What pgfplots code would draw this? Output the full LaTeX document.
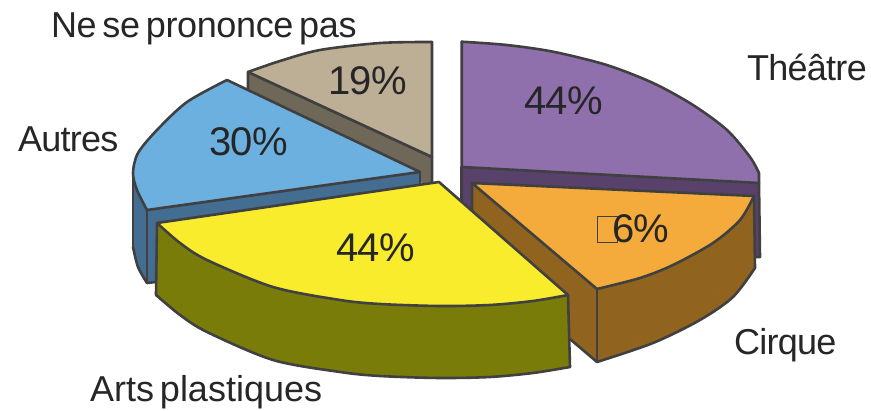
\documentclass[border=0pt]{standalone}
\usepackage{pgfplots}
\usepackage{fontspec}
\pgfplotsset{compat=1.18}
\setmainfont{Liberation Sans}
\newfontfamily\lab[LetterSpace=-2,WordSpace=0.6]{Liberation Sans}
\newfontfamily\labA[LetterSpace=-1,WordSpace=0.6]{Liberation Sans}
\newfontfamily\labB[LetterSpace=0,WordSpace=0.6]{Liberation Sans}
\newfontfamily\val[LetterSpace=-0.8]{Liberation Sans}
\definecolor{ln}{HTML}{404040}
\definecolor{tanT}{HTML}{BDAE96}\definecolor{tanS}{HTML}{6F6858}
\definecolor{bluT}{HTML}{6CB0E0}\definecolor{bluS}{HTML}{436D91}
\definecolor{purT}{HTML}{9070AC}\definecolor{purS}{HTML}{58426C}
\definecolor{oraT}{HTML}{F5AB3C}\definecolor{oraS}{HTML}{90641E}
\definecolor{yelT}{HTML}{F8EC2D}\definecolor{yelS}{HTML}{7A7C0A}
\tikzset{
 pt/.style={anchor=base west,inner sep=0pt,outer sep=0pt,text=black!85,font=\lab\fontsize{36}{36}\selectfont},
 ptA/.style={pt,font=\labA\fontsize{36}{36}\selectfont},
 ptB/.style={pt,font=\labB\fontsize{36}{36}\selectfont},
 vl/.style={anchor=base west,inner sep=0pt,outer sep=0pt,text=black!85,font=\val\fontsize{40}{40}\selectfont},
}
\pgfplotsset{
 base/.style={no markers,line width=2.6pt,line join=round,line cap=round},
 poly/.style={no markers,line width=1pt,line join=round,fill=#1,draw=#1},
 arc/.style={base,smooth,fill=#1,draw=ln},
 edge/.style={base,draw=ln,fill=none},
}
\begin{document}
\begin{tikzpicture}
\begin{axis}[hide axis,scale only axis,width=871pt,height=411pt,
 xmin=0,xmax=871,ymin=0,ymax=411,y dir=reverse,clip=false]
\path (axis cs:0,0) -- (axis cs:871,411);
% --- Ne se prononce pas
\addplot[poly=tanS] coordinates {(248,72)(432,157)(432,187)(248,100)(248,72)};
\addplot[edge] coordinates {(248,100)(248,72)(432,157)(432,187)};
\addplot[poly=tanT] coordinates {(248,72)(432,42)(432,157)(248,72)};
\addplot[arc=tanT] coordinates {(248,72)(280,61)(320,50)(380,43)(432,42)};
\addplot[edge] coordinates {(248,72)(432,157)(432,42)};
% --- Autres
\addplot[poly=bluS] coordinates {(133,173)(147,210)(420,172)(420,190)(147,283)(133,247)(133,173)};
\addplot[arc=bluS] coordinates {(133,247)(138,267)(147,283)};
\addplot[edge] coordinates {(133,173)(133,247)};
\addplot[edge] coordinates {(147,283)(165,281)};
\addplot[edge] coordinates {(147,210)(147,283)};
\addplot[edge] coordinates {(420,172)(420,190)};
\addplot[poly=bluT] coordinates {(147,210)(133,173)(227,80)(420,172)(147,210)};
\addplot[arc=bluT] coordinates {(227,80)(187,102)(157,130)(138,153)(133,173)(137,190)(147,210)};
\addplot[edge] coordinates {(227,80)(420,172)(147,210)};
% --- Theatre
\addplot[poly=purS] coordinates {(461.7,167)(759,183)(760,257)(745,257)(472,210)(461.7,200)(461.7,167)};
\addplot[edge] coordinates {(461.7,167)(461.7,205)};
\addplot[edge] coordinates {(759,183)(760,257)(750,257)};
\addplot[poly=purT] coordinates {(461.7,41.7)(759,173)(759,183)(461.7,167)(461.7,41.7)};
\addplot[arc=purT] coordinates {(461.7,41.7)(506.7,45)(553,51.7)(606.7,65)(653,83)(693,105)(727,130)(750,157)(759,173)};
\addplot[edge] coordinates {(461.7,41.7)(461.7,167)(759,183)(759,173)};
% --- Cirque
\addplot[poly=oraS] coordinates {(472,183)(597,289)(754,196)(755,268)(597,362)(472,256)(472,183)};
\addplot[arc=oraS] coordinates {(755,268)(733,297)(700,320)(653,343)(597,362)};
\addplot[edge] coordinates {(472,183)(472,256)(597,362)};
\addplot[edge] coordinates {(597,289)(597,362)};
\addplot[edge] coordinates {(754,196)(755,268)};
\addplot[poly=oraT] coordinates {(472,183)(754,196)(597,289)(472,183)};
\addplot[arc=oraT] coordinates {(754,196)(740,220)(713,243)(673,265)(640,278)(597,289)};
\addplot[edge] coordinates {(597,289)(472,183)(754,196)};
% --- Arts plastiques
\addplot[poly=yelS] coordinates {(157,223)(568,295)(570,367)(156,295)(157,223)};
\addplot[arc=yelS] coordinates {(156,295)(180,315)(207,332)(273,360)(340,372)(380,376)(439,378)(490,377)(533,373)(570,367)};
\addplot[edge] coordinates {(157,223)(156,295)};
\addplot[edge] coordinates {(568,295)(570,367)};
\addplot[poly=yelT] coordinates {(157,223)(439,182)(568,295)(157,223)};
\addplot[arc=yelT] coordinates {(157,223)(180,243)(207,260)(273,287)(340,300)(380,304)(439,306)(490,305)(533,301)(568,295)};
\addplot[edge] coordinates {(157,223)(439,182)(568,295)};
% --- little empty box
\addplot[no markers,line width=0.8pt,draw=ln] coordinates {(597,216)(617,216)(617,242)(597,242)(597,216)};
% --- values
\node[vl] at (axis cs:524,115) {44\%};
\node[vl] at (axis cs:612,243) {6\%};
\node[vl] at (axis cs:336,262) {44\%};
\node[vl] at (axis cs:209,156) {30\%};
\node[vl] at (axis cs:328,95) {19\%};
% --- names
\node[ptA] at (axis cs:51,38) {Ne se prononce pas};
\node[pt] at (axis cs:747,81) {Théâtre};
\node[pt] at (axis cs:18,152) {Autres};
\node[pt] at (axis cs:734,355) {Cirque};
\node[ptB] at (axis cs:90,402) {Arts plastiques};
\end{axis}
\end{tikzpicture}
\end{document}
